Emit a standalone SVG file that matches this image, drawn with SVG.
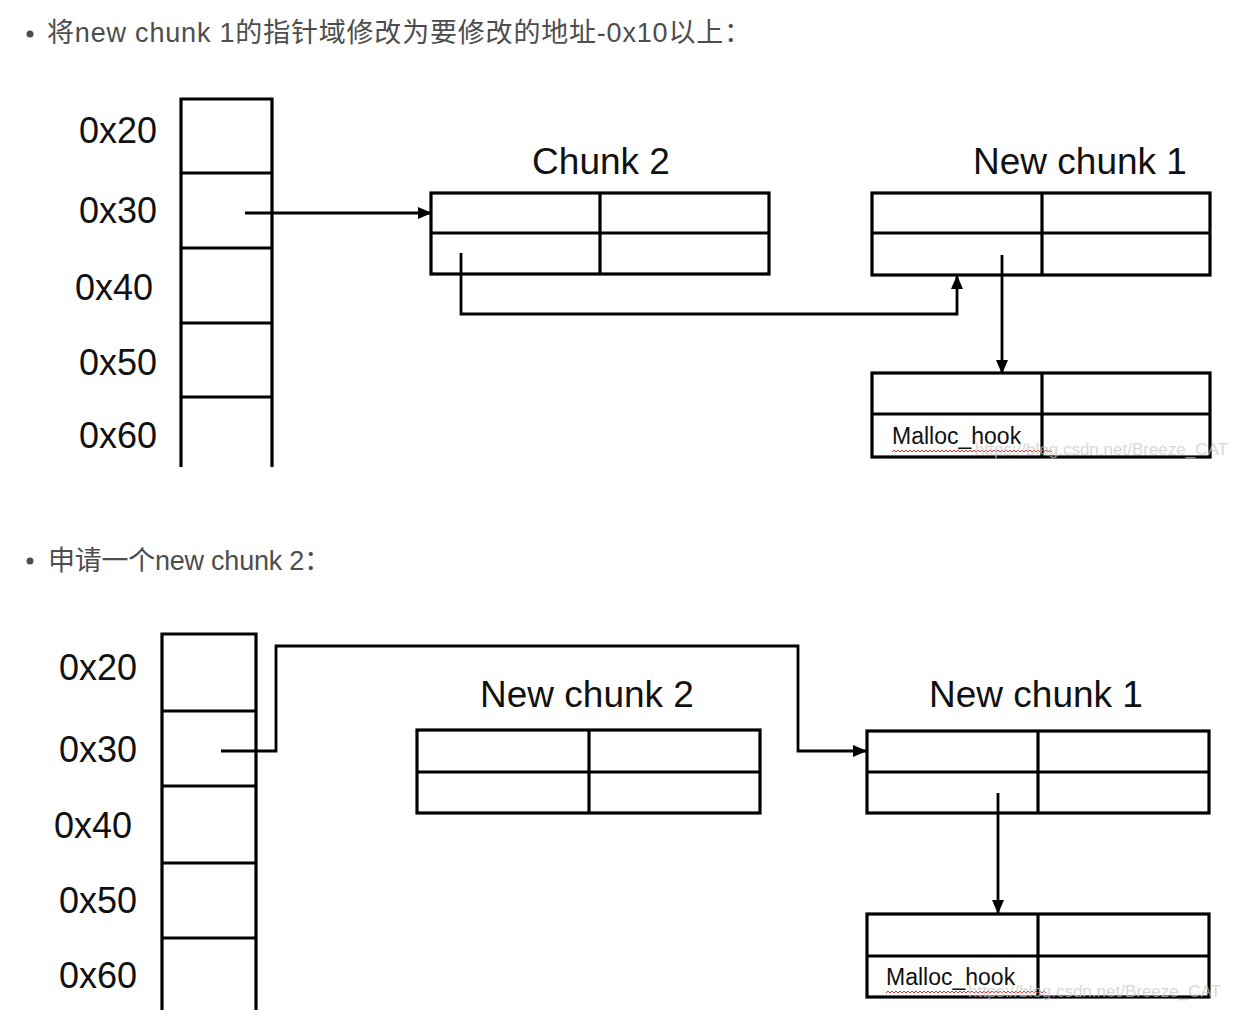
<svg xmlns="http://www.w3.org/2000/svg" width="1244" height="1034" viewBox="0 0 1244 1034">
<style>
.hdr{font-family:"Liberation Sans","Noto Sans CJK SC",sans-serif;font-size:27px;fill:#4d4d4d}
.addr{font-family:"Liberation Sans",sans-serif;font-size:36px;fill:#111;text-anchor:end}
.title{font-family:"Liberation Sans",sans-serif;font-size:37px;fill:#111;text-anchor:middle}
.cell{font-family:"Liberation Sans",sans-serif;font-size:23px;fill:#111}
.wm{font-family:"Liberation Sans",sans-serif;font-size:17px;fill:#c8c8c8;opacity:0.7}
.box{fill:none;stroke:#000;stroke-width:3.2}
.col{fill:none;stroke:#000;stroke-width:3.2}
.conn{fill:none;stroke:#000;stroke-width:2.8}
.wavy{fill:none;stroke:#e03030;stroke-width:1}
</style>
<defs>
<marker id="arr" markerUnits="userSpaceOnUse" markerWidth="14" markerHeight="12" refX="13" refY="6" orient="auto">
<path d="M0,0 L14,6 L0,12 z" fill="#000"/>
</marker>
</defs>
<rect width="1244" height="1034" fill="#fff"/>

<g id="header1">
<circle cx="30" cy="34" r="3.5" fill="#4d4d4d"/>
<text class="hdr" x="47" y="42" textLength="704" lengthAdjust="spacing">将new chunk 1的指针域修改为要修改的地址-0x10以上：</text>
</g>

<g id="stack1">
<path class="col" d="M181,467 V99 H272 V467 M181,173 H272 M181,248 H272 M181,323 H272 M181,397 H272"/>
<text class="addr" x="157" y="143">0x20</text>
<text class="addr" x="157" y="223">0x30</text>
<text class="addr" x="153" y="300">0x40</text>
<text class="addr" x="157" y="375">0x50</text>
<text class="addr" x="157" y="448">0x60</text>
</g>

<g id="chunk2">
<text class="title" x="601" y="174">Chunk 2</text>
<rect class="box" x="431" y="193" width="338" height="81"/>
<path class="box" d="M431,233 H769 M600,193 V274"/>
</g>

<g id="newchunk1a">
<text class="title" x="1080" y="174">New chunk 1</text>
<rect class="box" x="872" y="193" width="338" height="82"/>
<path class="box" d="M872,233 H1210 M1042,193 V275"/>
</g>

<g id="malloc1">
<rect class="box" x="872" y="373" width="338" height="84"/>
<path class="box" d="M872,414 H1210 M1042,373 V457"/>
<text class="cell" x="892" y="444">Malloc_hook</text>
<path class="wavy" d="M892,452 l2,-2 l2,2 l2,-2 l2,2 l2,-2 l2,2 l2,-2 l2,2 l2,-2 l2,2 l2,-2 l2,2 l2,-2 l2,2 l2,-2 l2,2 l2,-2 l2,2 l2,-2 l2,2 l2,-2 l2,2 l2,-2 l2,2 l2,-2 l2,2 l2,-2 l2,2 l2,-2 l2,2 l2,-2 l2,2 l2,-2 l2,2 l2,-2 l2,2 l2,-2 l2,2 l2,-2 l2,2 l2,-2 l2,2 l2,-2 l2,2 l2,-2 l2,2 l2,-2 l2,2 l2,-2 l2,2 l2,-2 l2,2 l2,-2 l2,2 l2,-2 l2,2 l2,-2 l2,2 l2,-2 l2,2 l2,-2 l2,2 l2,-2 l2,2 l2,-2 l2,2 l2,-2 l2,2 l2,-2 l2,2 l2,-2 l2,2 l2,-2 l2,2 l2,-2 l2,2 l2,-2 l2,2 l2,-2 l2,2"/>
</g>

<g id="header2">
<circle cx="30" cy="561" r="3.5" fill="#4d4d4d"/>
<text class="hdr" x="48" y="570" textLength="283" lengthAdjust="spacing">申请一个new chunk 2：</text>
</g>

<g id="stack2">
<path class="col" d="M162,1010 V634 H256 V1010 M162,711 H256 M162,786 H256 M162,863 H256 M162,938 H256"/>
<text class="addr" x="137" y="680">0x20</text>
<text class="addr" x="137" y="762">0x30</text>
<text class="addr" x="132" y="838">0x40</text>
<text class="addr" x="137" y="913">0x50</text>
<text class="addr" x="137" y="988">0x60</text>
</g>

<g id="newchunk2">
<text class="title" x="587" y="707">New chunk 2</text>
<rect class="box" x="417" y="730" width="343" height="83"/>
<path class="box" d="M417,772 H760 M589,730 V813"/>
</g>

<g id="newchunk1b">
<text class="title" x="1036" y="707">New chunk 1</text>
<rect class="box" x="867" y="731" width="342" height="82"/>
<path class="box" d="M867,772 H1209 M1038,731 V813"/>
</g>

<g id="malloc2">
<rect class="box" x="867" y="914" width="342" height="83"/>
<path class="box" d="M867,956 H1209 M1038,914 V997"/>
<text class="cell" x="886" y="985">Malloc_hook</text>
<path class="wavy" d="M886,993 l2,-2 l2,2 l2,-2 l2,2 l2,-2 l2,2 l2,-2 l2,2 l2,-2 l2,2 l2,-2 l2,2 l2,-2 l2,2 l2,-2 l2,2 l2,-2 l2,2 l2,-2 l2,2 l2,-2 l2,2 l2,-2 l2,2 l2,-2 l2,2 l2,-2 l2,2 l2,-2 l2,2 l2,-2 l2,2 l2,-2 l2,2 l2,-2 l2,2 l2,-2 l2,2 l2,-2 l2,2 l2,-2 l2,2 l2,-2 l2,2 l2,-2 l2,2 l2,-2 l2,2 l2,-2 l2,2 l2,-2 l2,2 l2,-2 l2,2 l2,-2 l2,2 l2,-2 l2,2 l2,-2 l2,2 l2,-2 l2,2 l2,-2 l2,2 l2,-2 l2,2 l2,-2 l2,2 l2,-2 l2,2 l2,-2 l2,2 l2,-2 l2,2 l2,-2 l2,2 l2,-2 l2,2 l2,-2 l2,2"/>
</g>

<g id="connectors">
<path class="conn" d="M245,213 H431" marker-end="url(#arr)"/>
<path class="conn" d="M461,253 V314 H957 V276" marker-end="url(#arr)"/>
<path class="conn" d="M1002,255 V373" marker-end="url(#arr)"/>
<path class="conn" d="M221,751 H276 V646 H798 V751 H866" marker-end="url(#arr)"/>
<path class="conn" d="M998,793 V913" marker-end="url(#arr)"/>
</g>

<g id="watermarks">
<text class="wm" x="975" y="455">https://blog.csdn.net/Breeze_CAT</text>
<text class="wm" x="968" y="997">https://blog.csdn.net/Breeze_CAT</text>
</g>
</svg>
